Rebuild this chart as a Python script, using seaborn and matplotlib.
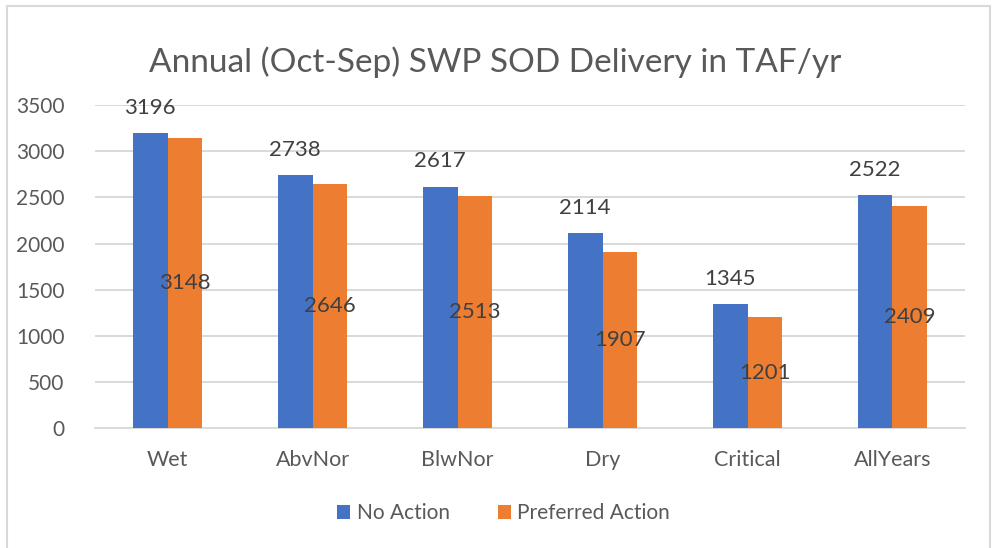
import pandas as pd
import matplotlib.pyplot as plt
import seaborn as sns
from matplotlib.patches import Rectangle

# Values
categories = ['Wet', 'AbvNor', 'BlwNor', 'Dry', 'Critical', 'AllYears']
no_action = [3196, 2738, 2617, 2114, 1345, 2522]
preferred_action = [3148, 2646, 2513, 1907, 1201, 2409]
series_names = ['No Action', 'Preferred Action']

df = pd.DataFrame({
    'Year Type': categories * 2,
    'Delivery': no_action + preferred_action,
    'Scenario': [series_names[0]] * len(categories) + [series_names[1]] * len(categories),
})

sns.set_style('white')
plt.rcParams['font.family'] = ['Lato', 'DejaVu Sans']
text_gray = '#595959'

fig = plt.figure(figsize=(9.97, 5.48), dpi=100)
ax = fig.add_axes([0.0953, 0.219, 0.8726, 0.589])

sns.barplot(data=df, x='Year Type', y='Delivery', hue='Scenario',
            palette=['#4472C4', '#ED7D31'], width=0.476, saturation=1,
            linewidth=0, ax=ax, zorder=3)

# Data labels: No Action above the bar, Preferred Action in the middle
ax.bar_label(ax.containers[0], fontsize=16, color='#404040', padding=11)
ax.bar_label(ax.containers[1], label_type='center', fontsize=16, color='#404040')

ax.set_ylim(0, 3500)
ax.set_yticks(range(0, 3501, 500))
ax.grid(axis='y', color='#d9d9d9', linewidth=1.4, zorder=0)
ax.set_xlabel('')
ax.set_ylabel('')
for side in ['top', 'right', 'left']:
    ax.spines[side].set_visible(False)
ax.spines['bottom'].set_color('#d9d9d9')
ax.spines['bottom'].set_linewidth(1.4)
ax.tick_params(axis='y', length=0, pad=22, labelsize=15, labelcolor=text_gray)
ax.tick_params(axis='x', length=0, pad=16, labelsize=15.5, labelcolor=text_gray)

ax.legend(loc='center', bbox_to_anchor=(0.505, 0.064), bbox_transform=fig.transFigure,
          ncol=2, frameon=False, fontsize=15, labelcolor=text_gray,
          handlelength=0.65, handleheight=0.65, handletextpad=0.3, columnspacing=2.3)

fig.suptitle('Annual (Oct-Sep) SWP SOD Delivery in TAF/yr', x=0.497, y=0.915,
             fontsize=24, color=text_gray)

# Chart frame
fig.patches.append(Rectangle((7 / 997, -0.01), 983 / 997, 1 - 6 / 548 + 0.01,
                             transform=fig.transFigure, fill=False,
                             edgecolor='#d9d9d9', linewidth=1.5))

fig.savefig('out.png', dpi=100)
